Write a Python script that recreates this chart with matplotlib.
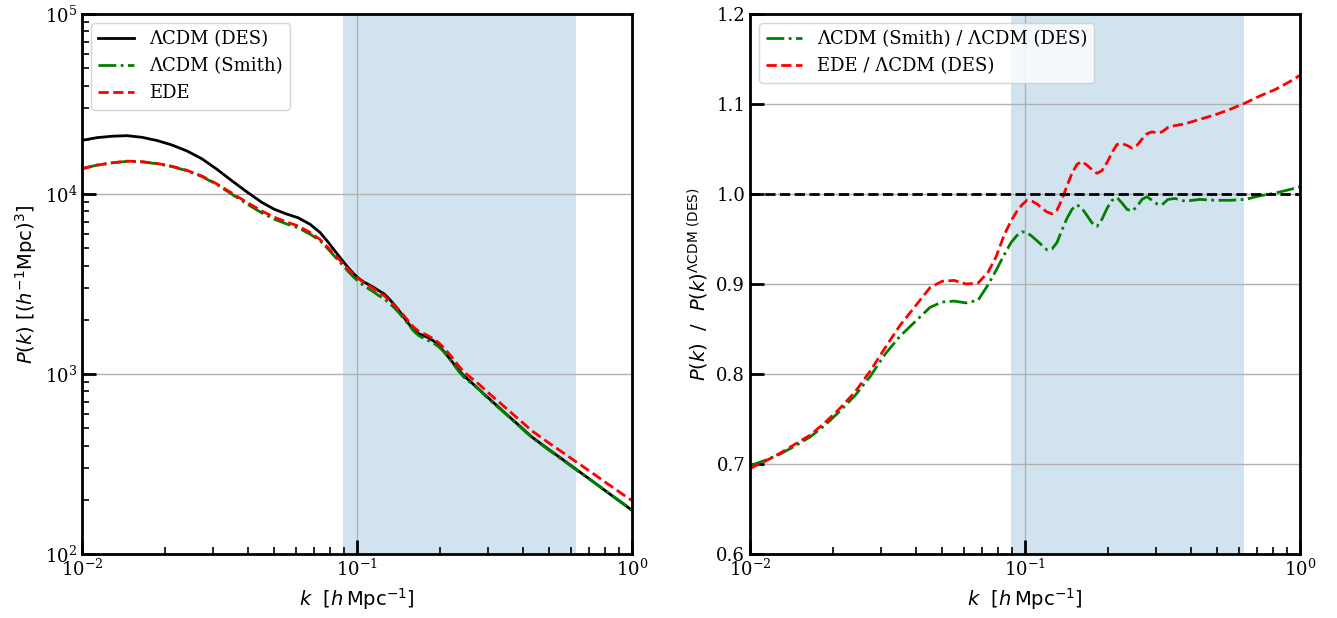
import numpy as np
import matplotlib
matplotlib.use('Agg')
import matplotlib.pyplot as plt

# wavenumbers k [h/Mpc]
k = [0.01000, 0.01134, 0.01286, 0.01458, 0.01653, 0.01874, 0.02125, 0.02409,
     0.02732, 0.03097, 0.03511, 0.03981, 0.04514, 0.04992, 0.05520, 0.06104,
     0.06749, 0.07336, 0.07845, 0.08388, 0.08894, 0.09352, 0.09752, 0.1017,
     0.1060, 0.1106, 0.1153, 0.1202, 0.1254, 0.1307, 0.1363, 0.1421, 0.1482,
     0.1546, 0.1612, 0.1681, 0.1752, 0.1827, 0.1905, 0.1987, 0.2072, 0.2160,
     0.2253, 0.2349, 0.2449, 0.2554, 0.2663, 0.2777, 0.2896, 0.3020, 0.3149,
     0.3311, 0.3511, 0.3818, 0.4329, 0.4909, 0.5566, 0.6310, 0.7155, 0.8113,
     0.9198, 1.0]

# LCDM (DES) power spectrum [(Mpc/h)^3]
pk_des = [19860, 20560, 20940, 21090, 20650, 19820, 18710, 17340, 15670, 13710,
          11830, 10260, 8970, 8240, 7760, 7380, 6790, 6120, 5410, 4740, 4230,
          3850, 3590, 3390, 3240, 3130, 3020, 2900, 2790, 2620, 2440, 2250,
          2060, 1890, 1750, 1670, 1630, 1585, 1520, 1435, 1334, 1230, 1135,
          1047, 977, 923, 871, 822, 774, 731, 690, 644, 594, 530, 446, 387,
          337, 293, 255, 221, 192, 175]

# LCDM (Smith) / LCDM (DES)
ratio_smith = [0.698, 0.704, 0.711, 0.720, 0.730, 0.743, 0.759, 0.776, 0.797,
               0.822, 0.842, 0.858, 0.874, 0.880, 0.881, 0.879, 0.882, 0.899,
               0.915, 0.932, 0.946, 0.954, 0.958, 0.957, 0.953, 0.948, 0.943,
               0.938, 0.939, 0.946, 0.960, 0.973, 0.983, 0.988, 0.984, 0.976,
               0.968, 0.964, 0.972, 0.984, 0.993, 0.996, 0.990, 0.983, 0.981,
               0.986, 0.994, 0.997, 0.993, 0.989, 0.988, 0.994, 0.995, 0.992,
               0.994, 0.993, 0.993, 0.994, 0.998, 1.001, 1.005, 1.008]

# EDE / LCDM (DES)
ratio_ede = [0.695, 0.703, 0.712, 0.722, 0.732, 0.746, 0.762, 0.780, 0.803,
             0.829, 0.854, 0.875, 0.896, 0.903, 0.904, 0.900, 0.901, 0.913,
             0.930, 0.954, 0.970, 0.981, 0.988, 0.993, 0.992, 0.989, 0.984,
             0.980, 0.978, 0.982, 0.994, 1.009, 1.023, 1.033, 1.036, 1.032,
             1.027, 1.023, 1.026, 1.035, 1.046, 1.055, 1.056, 1.054, 1.051,
             1.054, 1.061, 1.067, 1.069, 1.068, 1.069, 1.074, 1.076, 1.078,
             1.083, 1.088, 1.094, 1.101, 1.109, 1.116, 1.125, 1.132]

# shaded k range
k_span = (0.089, 0.625)

assert len(k) == len(pk_des) == len(ratio_smith) == len(ratio_ede)

k = np.array(k)
pk_des = np.array(pk_des)
pk_smith = pk_des * np.array(ratio_smith)
pk_ede = pk_des * np.array(ratio_ede)

plt.rcParams['font.family'] = 'DejaVu Serif'
plt.rcParams['mathtext.fontset'] = 'dejavuserif'

fig = plt.figure(figsize=(13.37, 6.18), dpi=100)
ax1 = fig.add_axes([82/1337, 1-554/618, 550/1337, 540/618])
ax2 = fig.add_axes([750/1337, 1-554/618, 550/1337, 540/618])

lab_kw = dict(fontsize=14, math_fontfamily='dejavusans')

for ax in (ax1, ax2):
    ax.axvspan(*k_span, color='C0', alpha=0.2, lw=0)
    ax.set_xscale('log')
    ax.set_xlim(1e-2, 1)
    ax.grid(True, which='major', color='#b0b0b0', lw=1)
    ax.tick_params(which='both', direction='in', top=False, right=False,
                   labelsize=13)
    ax.tick_params(which='major', length=10, width=2)
    ax.tick_params(which='minor', length=5, width=1.2)
    for s in ax.spines.values():
        s.set_linewidth(2)
    ax.set_xlabel(r'$k\ \ [h\,\mathrm{Mpc}^{-1}]$', **lab_kw)

# left panel
ax1.plot(k, pk_des, 'k-', lw=2, label='ΛCDM (DES)')
ax1.plot(k, pk_smith, color='green', ls='-.', lw=2, label='ΛCDM (Smith)')
ax1.plot(k, pk_ede, 'r--', lw=2, label='EDE')
ax1.set_yscale('log')
ax1.set_ylim(1e2, 1e5)
ax1.set_ylabel(r'$P(k)\ [(h^{-1}\mathrm{Mpc})^3]$', **lab_kw)
ax1.legend(loc='upper left', fontsize=13)

# right panel
ax2.plot(k, ratio_smith, color='green', ls='-.', lw=2,
         label='ΛCDM (Smith) / ΛCDM (DES)')
ax2.plot(k, ratio_ede, 'r--', lw=2, label='EDE / ΛCDM (DES)')
ax2.axhline(1.0, color='k', ls='--', lw=2)
ax2.set_ylim(0.6, 1.2)
ax2.set_yticks(np.arange(0.6, 1.21, 0.1))
ax2.set_ylabel(r'$P(k)\ \ /\ \ P(k)^{\Lambda\mathrm{CDM\ (DES)}}$', **lab_kw)
ax2.legend(loc='upper left', fontsize=13)

fig.savefig('out.png', dpi=100)
